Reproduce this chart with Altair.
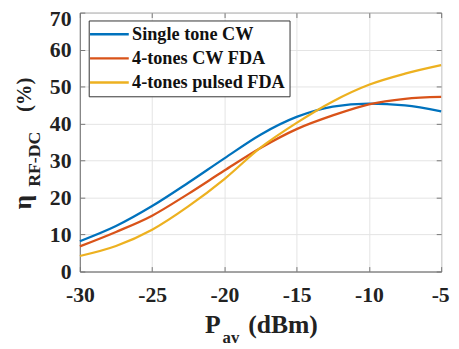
import altair as alt
import pandas as pd

p_av = [-30, -27.5, -25, -22.5, -20, -17.5, -15, -12.5, -10, -7.5, -5]
single_cw = [8.2, 12.3, 17.7, 24.0, 30.6, 37.0, 41.8, 44.6, 45.4, 44.9, 43.3]
fda_cw = [6.8, 10.7, 15.1, 21.0, 27.3, 33.4, 38.5, 42.2, 45.2, 46.7, 47.2]
fda_pulsed = [4.2, 6.9, 11.3, 17.6, 25.0, 33.5, 40.2, 46.0, 50.5, 53.5, 55.8]
series_names = ["Single tone CW", "4-tones CW FDA", "4-tones pulsed FDA"]
series_colors = ["#0072BD", "#D95319", "#EDB120"]
x_ticks = [-30, -25, -20, -15, -10, -5]
y_ticks = [0, 10, 20, 30, 40, 50, 60, 70]

rows = []
for name, vals in zip(series_names, [single_cw, fda_cw, fda_pulsed]):
    for xv, yv in zip(p_av, vals):
        rows.append({"p": xv, "eta": yv, "series": name, "order": series_names.index(name)})
df = pd.DataFrame(rows)

FONT = "Liberation Serif, Times New Roman, Tinos, DejaVu Serif, serif"
xscale = alt.Scale(domain=[-30, -5], nice=False, zero=False)
yscale = alt.Scale(domain=[0, 70], nice=False, zero=True)

base = alt.Chart(df)

lines = base.mark_line(strokeWidth=2.3, interpolate="monotone").encode(
    x=alt.X("p:Q", scale=xscale, axis=alt.Axis(
        values=x_ticks, title="", ticks=False, tickSize=0, labelPadding=13,
        labelExpr="'' + datum.value",
        labelOffset=alt.ExprRef("datum.value == -5 ? -1 : 0"),
        labelFont=FONT, labelFontSize=22, labelFontWeight="bold", labelColor="#222",
        domainColor="#777", gridColor="#e4e4e4", grid=True, labelFlush=False)),
    y=alt.Y("eta:Q", scale=yscale, axis=alt.Axis(
        values=y_ticks, title="", ticks=False, tickSize=0, labelPadding=9,
        labelExpr="'' + datum.value",
        labelFont=FONT, labelFontSize=22, labelFontWeight="bold", labelColor="#222",
        labelOffset=alt.ExprRef("datum.value == 70 ? 6 : 0"),
        domainColor="#777", gridColor="#e4e4e4", grid=True, labelFlush=False)),
    color=alt.Color("series:N", scale=alt.Scale(domain=series_names, range=series_colors),
                    title=None,
                    legend=alt.Legend(orient="none", legendX=9, legendY=8,
                                      symbolType="M-2.25,0H2.25", symbolSize=306, symbolStrokeWidth=2.5,
                                      symbolOffset=7,
                                      labelFont=FONT, labelFontSize=18.5, labelFontWeight="bold",
                                      labelColor="#111", padding=4, rowPadding=4.5, labelOffset=13,
                                      strokeColor="#333", fillColor="white", labelLimit=300)),
    detail="series:N",
    order="order:Q",
)

ticks_tr = base.mark_line(opacity=0).encode(
    x=alt.X("p:Q", scale=xscale, axis=alt.Axis(
        orient="top", values=x_ticks, title="", labels=False, domain=False, grid=False,
        ticks=True, tickSize=5, offset=-5, tickColor="#777")),
    y=alt.Y("eta:Q", scale=yscale, axis=alt.Axis(
        orient="right", values=y_ticks, title="", labels=False, domain=False, grid=False,
        ticks=True, tickSize=5, offset=-5, tickColor="#777")),
    detail="series:N",
)

ticks_bl = base.mark_line(opacity=0).encode(
    x=alt.X("p:Q", scale=xscale, axis=alt.Axis(
        orient="bottom", values=x_ticks, title="", labels=False, domain=False, grid=False,
        ticks=True, tickSize=5, offset=-5, tickColor="#777")),
    y=alt.Y("eta:Q", scale=yscale, axis=alt.Axis(
        orient="left", values=y_ticks, title="", labels=False, domain=False, grid=False,
        ticks=True, tickSize=5, offset=-5, tickColor="#777")),
    detail="series:N",
)

one = pd.DataFrame({"k": [0]})

def label(txt, x, y, size, angle=0):
    return alt.Chart(one).mark_text(
        text=txt, font=FONT, fontSize=size, fontWeight="bold",
        align="left", baseline="alphabetic", angle=angle, color="#222"
    ).encode(x=alt.value(x), y=alt.value(y))

titles = [
    label("η", -50, 200, 26, angle=270),
    label("RF-DC", -41, 177, 18, angle=270),
    label("(%)", -50, 101, 21, angle=270),
    label("P", 127, 325, 26),
    label("av", 145, 336, 17),
    label("(dBm)", 171, 325, 26),
]

chart = alt.layer(lines, ticks_tr, ticks_bl, *titles).resolve_axis(
    x="independent", y="independent"
).properties(
    width=367, height=263,
    autosize=alt.AutoSizeParams(type="none"),
    padding={"left": 73, "top": 2, "right": 10, "bottom": 75},
).configure(font=FONT).configure_view(stroke="#777", strokeWidth=1)

chart.save("out.html", embed_options={"renderer": "svg", "actions": False})
